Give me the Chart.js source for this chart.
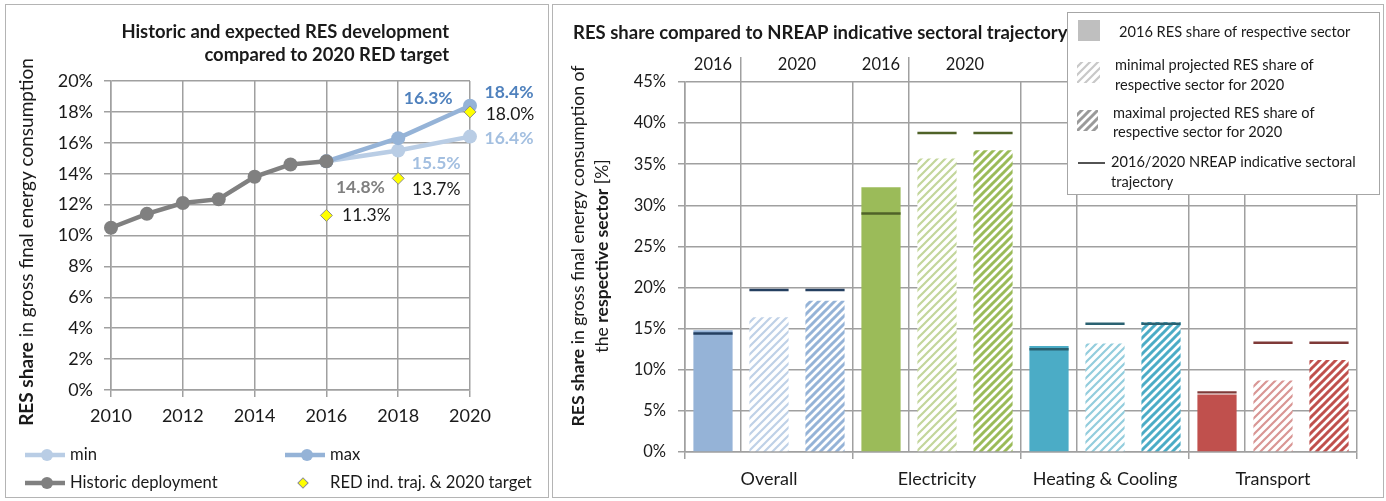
<!DOCTYPE html>
<html>
<head>
<meta charset="utf-8">
<script src="https://cdn.jsdelivr.net/npm/chart.js@4.4.1/dist/chart.umd.min.js"></script>
<style>
  body { margin: 0; background: #fff; width: 1386px; height: 501px; overflow: hidden; position: relative; }
  .panel { position: absolute; border: 1px solid #b4b4b4; box-sizing: border-box; }
  canvas { position: absolute; }
</style>
</head>
<body>
<div class="panel" style="left:5px;top:4px;width:544px;height:494px"></div>
<div class="panel" style="left:552px;top:4px;width:832px;height:494px"></div>
<canvas id="left" width="540" height="490" style="left:7px;top:6px"></canvas>
<canvas id="right" width="828" height="490" style="left:554px;top:6px"></canvas>
<script>
// --- left chart data ---
const histYears = [2010, 2011, 2012, 2013, 2014, 2015, 2016];
const histShare = [10.5, 11.4, 12.1, 12.35, 13.8, 14.6, 14.8];
const projYears = [2016, 2018, 2020];
const minShare = [14.8, 15.5, 16.4];
const maxShare = [14.8, 16.3, 18.4];
const redTarget = [11.3, 13.7, 18.0];

// --- right chart data ---
const sectors = ['Overall', 'Electricity', 'Heating & Cooling', 'Transport'];
const share2016 = [14.8, 32.2, 12.9, 7.0];
const minShare2020 = [16.4, 35.7, 13.2, 8.7];
const maxShare2020 = [18.4, 36.7, 15.8, 11.2];
const nreap2016 = [14.4, 29.0, 12.5, 7.25];
const nreap2020 = [19.7, 38.8, 15.6, 13.3];
const headerYears = ['2016', '2020'];

const FONT = 'Lato, "Open Sans", sans-serif';
const TXT = '#1a1a1a';
const GRID = '#a0a0a0';
Chart.defaults.font.family = FONT;

// farben
const sectorColors = ['#95b3d7', '#9bbb59', '#4bacc6', '#c0504d'];
const nreapColors = ['#243f60', '#4f6228', '#2a6171', '#7f3a38'];

function lighten(hex, f) {
  const n = parseInt(hex.slice(1), 16);
  const ch = [n >> 16, (n >> 8) & 255, n & 255].map(c => Math.round(c + (255 - c) * f));
  return 'rgb(' + ch.join(',') + ')';
}

// schraffur "/" auf weiss
function hatch(color, width) {
  const c = document.createElement('canvas');
  c.width = 8; c.height = 8;
  const g = c.getContext('2d');
  g.fillStyle = '#fff';
  g.fillRect(0, 0, 8, 8);
  g.strokeStyle = color;
  g.lineWidth = width;
  g.beginPath();
  g.moveTo(-1, 1); g.lineTo(1, -1);
  g.moveTo(-1, 9); g.lineTo(9, -1);
  g.moveTo(7, 9); g.lineTo(9, 7);
  g.stroke();
  return g.createPattern(c, 'repeat');
}

function richText(ctx, parts, x, y, size, align, angle, color) {
  ctx.save();
  ctx.translate(x, y);
  if (angle) ctx.rotate(angle);
  const fontOf = p => (p.b ? 'bold ' : '') + size + 'px ' + FONT;
  let total = 0;
  parts.forEach(p => { ctx.font = fontOf(p); total += ctx.measureText(p.t).width; });
  let cx = align === 'center' ? -total / 2 : align === 'right' ? -total : 0;
  ctx.textBaseline = 'middle';
  ctx.textAlign = 'left';
  ctx.fillStyle = color || TXT;
  parts.forEach(p => { ctx.font = fontOf(p); ctx.fillText(p.t, cx, 0); cx += ctx.measureText(p.t).width; });
  ctx.restore();
}

// ---------------- linkes Diagramm ----------------
const pts = (xs, ys) => xs.map((x, i) => ({ x: x, y: ys[i] }));

// wo die Werte-Beschriftungen sitzen (Versatz zum Punkt)
const leftLabelSpots = [
  { ds: 1, i: 6, dx: 34, dy: 26, color: '#7f7f7f', bold: true },
  { ds: 3, i: 1, dx: 38, dy: 13, color: '#a3bfe0', bold: true },
  { ds: 3, i: 2, dx: 39, dy: 2, color: '#a3bfe0', bold: true },
  { ds: 2, i: 1, dx: 30, dy: -40, color: '#4f81bd', bold: true },
  { ds: 2, i: 2, dx: 39, dy: -13, color: '#4f81bd', bold: true },
  { ds: 0, i: 0, dx: 40, dy: 0, color: TXT, bold: false },
  { ds: 0, i: 1, dx: 38, dy: 11, color: TXT, bold: false },
  { ds: 0, i: 2, dx: 40, dy: 2, color: TXT, bold: false }
];

const leftDecor = {
  id: 'leftDecor',
  afterDraw(chart) {
    const ctx = chart.ctx;
    // titel
    richText(ctx, [{ t: 'Historic and expected RES development', b: true }], 442, 26, 18.4, 'right');
    richText(ctx, [{ t: 'compared to 2020 RED target', b: true }], 442, 49, 18.4, 'right');
    // y-achsen titel
    richText(ctx, [{ t: 'RES share', b: true }, { t: ' in gross final energy consumption' }], 20, 236, 19, 'center', -Math.PI / 2);
    // werte
    leftLabelSpots.forEach(s => {
      const el = chart.getDatasetMeta(s.ds).data[s.i];
      const v = chart.data.datasets[s.ds].data[s.i].y;
      richText(ctx, [{ t: v.toFixed(1) + '%', b: s.bold }], el.x + s.dx, el.y + s.dy, 17.5, 'center', 0, s.color);
    });
    // legende
    const cols = [18, 278], rows = [449, 477];
    const items = [
      { ds: 3, c: 0, r: 0 }, { ds: 2, c: 1, r: 0 },
      { ds: 1, c: 0, r: 1 }, { ds: 0, c: 1, r: 1 }
    ];
    items.forEach(it => {
      const d = chart.data.datasets[it.ds];
      const x = cols[it.c], y = rows[it.r];
      ctx.save();
      if (d.showLine === false) {
        ctx.translate(x + 18, y);
        ctx.rotate(Math.PI / 4);
        ctx.fillStyle = d.backgroundColor;
        ctx.strokeStyle = d.borderColor;
        ctx.lineWidth = 1;
        ctx.fillRect(-3.6, -3.6, 7.2, 7.2);
        ctx.strokeRect(-3.6, -3.6, 7.2, 7.2);
      } else {
        ctx.strokeStyle = d.borderColor;
        ctx.lineWidth = 4.5;
        ctx.beginPath(); ctx.moveTo(x, y); ctx.lineTo(x + 40, y); ctx.stroke();
        ctx.fillStyle = d.borderColor;
        ctx.beginPath(); ctx.arc(x + 22, y, 6, 0, Math.PI * 2); ctx.fill();
      }
      ctx.restore();
      richText(ctx, [{ t: d.label }], x + 45, y, 16.6, 'left');
    });
  }
};

new Chart(document.getElementById('left'), {
  type: 'line',
  data: {
    datasets: [
      { label: 'RED ind. traj. & 2020 target', data: pts(projYears, redTarget), showLine: false,
        pointStyle: 'rectRot', pointRadius: 6, backgroundColor: '#ffff00', borderColor: '#8c8c8c', borderWidth: 1, clip: false },
      { label: 'Historic deployment', data: pts(histYears, histShare), borderColor: '#808080', backgroundColor: '#808080',
        borderWidth: 4.5, pointRadius: 7, pointBorderWidth: 0, clip: false },
      { label: 'max', data: pts(projYears, maxShare), borderColor: '#95b3d7', backgroundColor: '#95b3d7',
        borderWidth: 4.5, pointRadius: 7, pointBorderWidth: 0, clip: false },
      { label: 'min', data: pts(projYears, minShare), borderColor: '#b9cde5', backgroundColor: '#b9cde5',
        borderWidth: 4.5, pointRadius: 7, pointBorderWidth: 0, clip: false }
    ]
  },
  options: {
    responsive: false,
    animation: false,
    devicePixelRatio: 1,
    layout: { padding: { left: 0, right: 77, top: 75, bottom: 66 } },
    plugins: { legend: { display: false }, tooltip: { enabled: false } },
    scales: {
      x: {
        type: 'linear', min: 2010, max: 2020,
        afterFit: s => { s.height = 40; },
        ticks: { stepSize: 2, callback: v => String(v), padding: 8, font: { size: 18 }, color: TXT, maxRotation: 0 },
        grid: { color: GRID, lineWidth: 1.5, tickLength: 7 },
        border: { color: GRID, width: 1.5 }
      },
      y: {
        min: 0, max: 20,
        afterFit: s => { s.width = 104; },
        ticks: { stepSize: 2, callback: v => v + '%', padding: 11, font: { size: 18 }, color: TXT },
        grid: { color: GRID, lineWidth: 1.5, tickLength: 7 },
        border: { color: GRID, width: 1.5 }
      }
    }
  },
  plugins: [leftDecor]
});

// ---------------- rechtes Diagramm ----------------
const minPatterns = sectorColors.map(c => hatch(lighten(c, 0.4), 2.2));
const maxPatterns = sectorColors.map(c => hatch(c, 3));
const slotLabels = sectors.flatMap(s => [s + ' 2016', s + ' min', s + ' max']);
const marker = v => [v - 0.15, v + 0.15];

const rightDecor = {
  id: 'rightDecor',
  afterDraw(chart) {
    const ctx = chart.ctx;
    const x2 = chart.scales.x2;
    richText(ctx, [{ t: 'RES share compared to NREAP indicative sectoral trajectory', b: true }], 19, 27, 18.5, 'left');
    richText(ctx, [{ t: 'RES share', b: true }, { t: ' in gross final energy consumption of' }], 24, 240, 17.6, 'center', -Math.PI / 2);
    richText(ctx, [{ t: 'the ' }, { t: 'respective sector', b: true }, { t: ' [%]' }], 48, 250, 17.6, 'center', -Math.PI / 2);
    // jahreskoepfe ueber den ersten beiden sektoren
    for (let g = 0; g < 2; g++) {
      const a = x2.getPixelForValue(g * 3);
      const b = (x2.getPixelForValue(g * 3 + 1) + x2.getPixelForValue(g * 3 + 2)) / 2;
      richText(ctx, [{ t: headerYears[0] }], a, 59, 16.5, 'center');
      richText(ctx, [{ t: headerYears[1] }], b, 59, 16.5, 'center');
    }
    // legende
    ctx.save();
    ctx.fillStyle = '#fff';
    ctx.strokeStyle = '#a6a6a6';
    ctx.lineWidth = 1;
    ctx.fillRect(513, 6, 312, 182);
    ctx.strokeRect(513.5, 6.5, 312, 182);
    ctx.fillStyle = '#bfbfbf';
    ctx.fillRect(524, 14, 22, 21);
    ctx.fillStyle = hatch('#c8c8c8', 2.2);
    ctx.fillRect(523, 56, 23, 21);
    ctx.fillStyle = hatch('#9a9a9a', 3);
    ctx.fillRect(523, 104, 21, 21);
    ctx.strokeStyle = '#1a1a1a';
    ctx.lineWidth = 1.5;
    ctx.beginPath(); ctx.moveTo(524, 157); ctx.lineTo(551, 157); ctx.stroke();
    ctx.restore();
    const ls = 14.6;
    richText(ctx, [{ t: '2016 RES share of respective sector' }], 565, 26, ls, 'left');
    richText(ctx, [{ t: 'minimal projected RES share of' }], 561, 59, ls, 'left');
    richText(ctx, [{ t: 'respective sector for 2020' }], 561, 79, ls, 'left');
    richText(ctx, [{ t: 'maximal projected RES share of' }], 559, 107, ls, 'left');
    richText(ctx, [{ t: 'respective sector for 2020' }], 559, 126, ls, 'left');
    richText(ctx, [{ t: '2016/2020 NREAP indicative sectoral' }], 557, 156, ls, 'left');
    richText(ctx, [{ t: 'trajectory' }], 557, 176, ls, 'left');
  }
};

new Chart(document.getElementById('right'), {
  type: 'bar',
  data: {
    labels: sectors,
    datasets: [
      { label: 'NREAP 2016', data: nreap2016.map(marker), backgroundColor: nreapColors, stack: 's2016' },
      { label: 'NREAP 2020', data: nreap2020.map(marker), backgroundColor: nreapColors, stack: 'smin' },
      { label: 'NREAP 2020', data: nreap2020.map(marker), backgroundColor: nreapColors, stack: 'smax' },
      { label: '2016', data: share2016, backgroundColor: sectorColors, stack: 's2016' },
      { label: 'min 2020', data: minShare2020, backgroundColor: minPatterns, stack: 'smin' },
      { label: 'max 2020', data: maxShare2020, backgroundColor: maxPatterns, stack: 'smax' }
    ]
  },
  options: {
    responsive: false,
    animation: false,
    devicePixelRatio: 1,
    datasets: { bar: { barPercentage: 0.7, categoryPercentage: 1, borderWidth: 0 } },
    layout: { padding: { left: 0, right: 25, top: 51, bottom: 4 } },
    plugins: { legend: { display: false }, tooltip: { enabled: false } },
    scales: {
      x: {
        stacked: true,
        afterFit: s => { s.height = 40; },
        ticks: { padding: 9, font: { size: 18 }, color: TXT },
        grid: { color: GRID, lineWidth: 1.5, tickLength: 7, offset: true },
        border: { color: GRID, width: 1.5 }
      },
      x2: {
        type: 'category', labels: slotLabels, position: 'top', offset: true,
        afterFit: s => { s.height = 25; },
        ticks: { display: false },
        grid: { offset: true, lineWidth: 1.5, tickLength: 25,
          color: c => (c.index !== undefined && c.index % 3 === 1) ? GRID : 'rgba(0,0,0,0)' },
        border: { display: false }
      },
      y: {
        stacked: false, min: 0, max: 45,
        afterFit: s => { s.width = 131; },
        ticks: { stepSize: 5, callback: v => v + '%', padding: 12, font: { size: 16.5 }, color: TXT },
        grid: { color: GRID, lineWidth: 1.5, tickLength: 7 },
        border: { color: GRID, width: 1.5 }
      }
    }
  },
  plugins: [rightDecor]
});
</script>
</body>
</html>
